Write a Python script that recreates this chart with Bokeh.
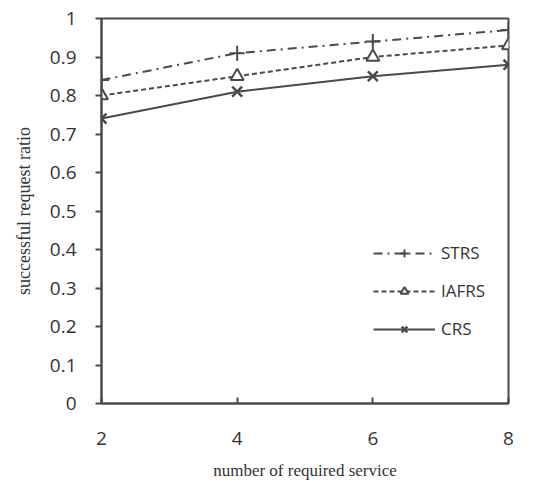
from bokeh.plotting import figure
from bokeh.models import Range1d, FixedTicker, Legend, LegendItem
from bokeh.embed import file_html
from bokeh.resources import INLINE

x = [2, 4, 6, 8]
strs = [0.84, 0.91, 0.94, 0.97]
iafrs = [0.80, 0.85, 0.90, 0.93]
crs = [0.74, 0.81, 0.85, 0.88]
x_ticks = [2, 4, 6, 8]
y_ticks = [0, 0.1, 0.2, 0.3, 0.4, 0.5, 0.6, 0.7, 0.8, 0.9, 1]
x_title = "number of required service"
y_title = "successful request ratio"

C = "#4a4a4a"
p = figure(width=523, height=483, output_backend="svg", toolbar_location=None,
           x_range=Range1d(2, 8), y_range=Range1d(0, 1),
           min_border_left=101, min_border_right=15, min_border_top=18, min_border_bottom=80)
p.xgrid.visible = False
p.ygrid.visible = False
p.outline_line_color = C
p.outline_line_width = 2
p.background_fill_color = "white"
p.border_fill_color = "white"

p.xaxis.ticker = FixedTicker(ticks=x_ticks)
p.yaxis.ticker = FixedTicker(ticks=y_ticks)
p.yaxis.major_label_overrides = {0: "0", 1: "1"}
for ax in (p.xaxis[0], p.yaxis[0]):
    ax.axis_line_color = C
    ax.axis_line_width = 2
    ax.major_tick_line_color = C
    ax.major_tick_line_width = 2
    ax.minor_tick_line_color = None
    ax.major_label_text_font = "Open Sans"
    ax.major_label_text_font_size = "19px"
    ax.major_label_text_color = "#333333"
    ax.axis_label_text_font = "Liberation Serif"
    ax.axis_label_text_font_style = "normal"
    ax.axis_label_text_color = "#333333"
p.xaxis.axis_label_text_font_size = "17px"
p.yaxis.axis_label_text_font_size = "18px"
p.xaxis.major_tick_in = 6
p.xaxis.major_tick_out = 0
p.yaxis.major_tick_in = 0
p.yaxis.major_tick_out = 6
p.xaxis.major_label_standoff = 28
p.yaxis.major_label_standoff = 19
p.xaxis.axis_label = x_title
p.yaxis.axis_label = y_title
p.xaxis.axis_label_standoff = 13
p.yaxis.axis_label_standoff = 13

l1 = p.line(x, strs, line_color=C, line_width=2, line_dash="9 5 2 5")
m1 = p.scatter(x, strs, marker="cross", size=15, line_color=C, line_width=2)
l2 = p.line(x, iafrs, line_color=C, line_width=2, line_dash="5 3")
m2 = p.scatter(x, iafrs, marker="triangle", size=13, line_color=C, line_width=2, fill_color="white")
l3 = p.line(x, crs, line_color=C, line_width=2)
m3 = p.scatter(x, crs, marker="x", size=14, line_color=C, line_width=2.5)

legend = Legend(items=[LegendItem(label="STRS", renderers=[l1, m1]),
                       LegendItem(label="IAFRS", renderers=[l2, m2]),
                       LegendItem(label="CRS", renderers=[l3, m3])],
                location=(272, 63), border_line_color=None, background_fill_alpha=0,
                glyph_width=62, glyph_height=20, spacing=15, label_standoff=6,
                label_text_font="Open Sans", label_text_font_size="17px",
                label_text_color="#333333")
p.add_layout(legend)

open("out.html", "w").write(file_html(p, INLINE))
